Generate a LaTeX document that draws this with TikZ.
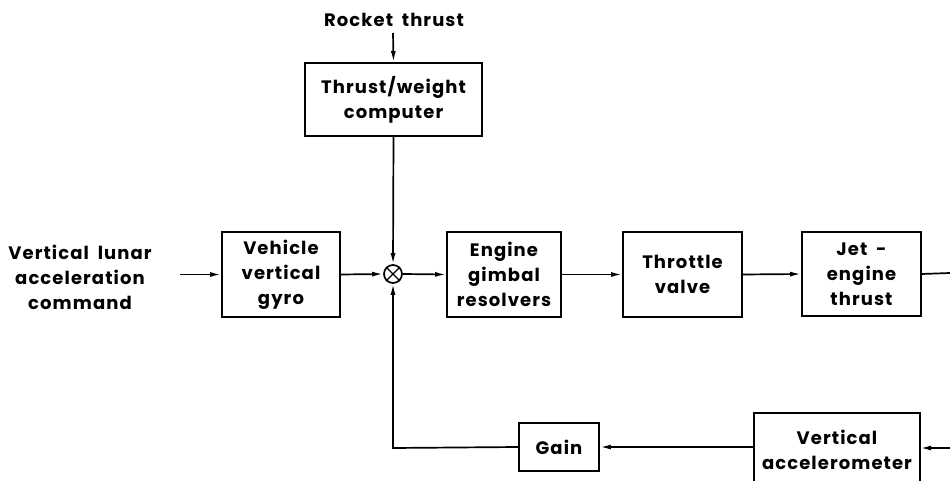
\documentclass[tikz,border=0pt]{standalone}
\usepackage{fontspec}
\setmainfont{Poppins}[LetterSpace=6, WordSpace=1.8]
\usetikzlibrary{arrows.meta}
\tikzset{
  blk/.style={draw, line width=1.9pt, rectangle, align=center, inner sep=0pt},
  lbl/.style={align=center, inner sep=0pt},
  conn/.style={line width=1.7pt, -{Latex[length=11pt,width=5pt]}},
  wire/.style={line width=1.7pt},
  every node/.style={font=\fontsize{18}{25}\selectfont\bfseries}
}
\begin{document}
\begin{tikzpicture}[x=1pt,y=-1pt]
\useasboundingbox (0,0) rectangle (950,481);
\node[lbl] (rt) at (394,20) {Rocket thrust};
\node[blk, minimum width=177pt, minimum height=73pt] (tw) at (393.5,99.5) {Thrust/weight\\computer};
\node[lbl] (cmd) at (80,277) {Vertical lunar\\acceleration\\command};
\node[blk, minimum width=118pt, minimum height=85pt] (gyro) at (281,274.5) {Vehicle\\vertical\\gyro};
\node[draw, circle, line width=1.7pt, minimum size=18pt, inner sep=0pt] (sum) at (393,274) {};
\draw[line width=1.4pt] (sum.north west) -- (sum.south east) (sum.north east) -- (sum.south west);
\node[blk, minimum width=114pt, minimum height=85pt] (gim) at (504,274.5) {Engine\\gimbal\\resolvers};
\node[blk, minimum width=119pt, minimum height=85pt] (thr) at (682.5,274.5) {Throttle\\valve};
\node[blk, minimum width=119pt, minimum height=84pt] (jet) at (861.5,274) {Jet -\\engine\\thrust};
\node[lbl, minimum width=166pt, minimum height=74pt] (acc) at (837,450) {Vertical\\accelerometer};
\draw[line width=1.9pt] (acc.south west) -- (acc.north west) -- (acc.north east) -- (acc.south east);
\node[blk, minimum width=80pt, minimum height=48pt] (gain) at (559,447) {Gain};
\coordinate (outR) at (950,273);
\coordinate (inR) at (950,448);
\coordinate (fbc) at (393,448);
\coordinate (rtb) at (393,33);
\coordinate (cmdR) at (180,274.5);
\draw[conn] (rtb) -- (tw.north);
\draw[conn] (tw.south) -- (sum.north);
\draw[conn] (cmdR) -- (gyro.west);
\draw[conn] (gyro.east) -- (sum.west);
\draw[conn] (sum.east) -- (gim.west);
\draw[conn] (gim.east) -- (thr.west);
\draw[conn] (thr.east) -- (jet.west);
\draw[wire] (jet.east) -- (outR);
\draw[conn] (inR) -- (acc.east |- inR);
\draw[conn] (acc.west |- gain.east) -- (gain.east);
\draw[conn] (gain.west) -- (fbc) -- (sum.south);
\end{tikzpicture}
\end{document}
